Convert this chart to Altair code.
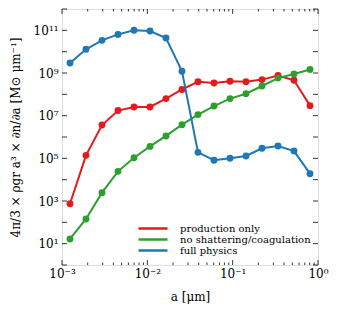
import altair as alt
import pandas as pd

# grain radius bin centres [micron]
a_vals = [0.001241, 0.001911, 0.002943, 0.004532, 0.006978, 0.010746, 0.016548, 0.025482,
          0.039241, 0.060430, 0.093057, 0.14330, 0.22067, 0.33982, 0.52330, 0.80584]

# log10 of 4pi/3 rho a^3 dn/da
log_production = [2.87, 5.14, 6.56, 7.24, 7.41, 7.41, 7.80, 8.23,
                  8.59, 8.53, 8.61, 8.59, 8.69, 8.88, 8.66, 7.47]
log_noshatter = [1.22, 2.16, 3.39, 4.39, 5.03, 5.56, 6.05, 6.58,
                 7.05, 7.45, 7.80, 8.03, 8.39, 8.76, 8.95, 9.16]
log_full = [9.47, 10.11, 10.53, 10.81, 11.00, 10.97, 10.64, 9.08,
            5.28, 4.91, 5.00, 5.11, 5.47, 5.58, 5.34, 4.28]

series_names = ["production only", "no shattering/coagulation", "full physics"]
series_colors = ["#e41a1c", "#2ca02c", "#1f77b4"]
series_logs = [log_production, log_noshatter, log_full]

x_major = [0.001, 0.01, 0.1, 1.0]
x_minor = [k * 10.0 ** e for e in (-3, -2, -1) for k in range(2, 10)]
y_major = [10.0 ** e for e in range(0, 13)]
x_tick_labels = ["10⁻³", "10⁻²", "10⁻¹", "10⁰"]
y_label_values = [1e1, 1e3, 1e5, 1e7, 1e9, 1e11]
y_tick_labels = ["10¹", "10³", "10⁵", "10⁷", "10⁹", "10¹¹"]

FONT = "DejaVu Serif"
W = 256
H = 256

rows = []
for name, logs in zip(series_names, series_logs):
    for a, lv in zip(a_vals, logs):
        rows.append({"a": a, "val": 10.0 ** lv, "series": name})
df = pd.DataFrame(rows)

xscale = alt.Scale(type="log", domain=[1e-3, 1.0], nice=False)
yscale = alt.Scale(type="log", domain=[1.0, 1e12], nice=False)
cscale = alt.Scale(domain=series_names, range=series_colors)

x_label_expr = "[" + ",".join("'%s'" % s for s in x_tick_labels) + "][round(log(datum.value)/LN10)+3]"
y_label_expr = "[" + ",".join("'%s'" % s for s in y_tick_labels) + "][(round(log(datum.value)/LN10)-1)/2]"

x_axis = alt.Axis(values=x_major, labelExpr=x_label_expr, ticks=False, domain=False, grid=False,
                  labelFont=FONT, labelFontSize=12, labelPadding=3, labelColor="black",
                  title="a [μm]", titleFont=FONT, titleFontSize=12, titleFontWeight="normal",
                  titleX=128, titleY=31, titleBaseline="middle", titleAlign="center",
                  titleColor="black", labelFlush=False)
y_axis = alt.Axis(values=y_label_values, labelExpr=y_label_expr, ticks=False, domain=False, grid=False,
                  labelFont=FONT, labelFontSize=12, labelPadding=4, labelColor="black",
                  title="4π/3 × ρgr a³ × ∂n/∂a [M⊙ μm⁻¹]", titleFont=FONT, titleFontSize=12,
                  titleFontWeight="normal", titleX=-47, titleY=128, titleAngle=-90,
                  titleBaseline="middle", titleAlign="center", titleColor="black", labelFlush=False)

legend = alt.Legend(title=None, orient="none", legendX=75, legendY=214, symbolType="stroke",
                    symbolSize=841, symbolStrokeWidth=2.5, labelFont=FONT, labelFontSize=10,
                    labelColor="black", labelOffset=11, clipHeight=11, rowPadding=0, padding=0)

layers = []
for i, name in enumerate(series_names):
    sub = alt.Chart(df).transform_filter(alt.datum.series == name)
    enc = dict(
        x=alt.X("a:Q", scale=xscale, axis=x_axis),
        y=alt.Y("val:Q", scale=yscale, axis=y_axis),
        color=alt.Color("series:N", scale=cscale, legend=legend),
    )
    layers.append(sub.mark_line(strokeWidth=2, clip=True).encode(**enc))
    layers.append(sub.mark_circle(size=48, opacity=1, clip=True).encode(**enc))

# inward ticks on all four sides
xmaj_df = pd.DataFrame({"a": x_major})
xmin_df = pd.DataFrame({"a": x_minor})
ymaj_df = pd.DataFrame({"val": y_major})

def xticks(d, length):
    bottom = alt.Chart(d).mark_rule(color="black", strokeWidth=0.8).encode(
        x=alt.X("a:Q", scale=xscale, axis=x_axis), y=alt.value(H), y2=alt.value(H - length))
    top = alt.Chart(d).mark_rule(color="black", strokeWidth=0.8).encode(
        x=alt.X("a:Q", scale=xscale, axis=x_axis), y=alt.value(0), y2=alt.value(length))
    return [bottom, top]

def yticks(d, length):
    left = alt.Chart(d).mark_rule(color="black", strokeWidth=0.8).encode(
        y=alt.Y("val:Q", scale=yscale, axis=y_axis), x=alt.value(0), x2=alt.value(length))
    right = alt.Chart(d).mark_rule(color="black", strokeWidth=0.8).encode(
        y=alt.Y("val:Q", scale=yscale, axis=y_axis), x=alt.value(W), x2=alt.value(W - length))
    return [left, right]

tick_layers = xticks(xmaj_df, 5) + xticks(xmin_df, 2.5) + yticks(ymaj_df, 5)

chart = alt.layer(*layers, *tick_layers).properties(
    width=W, height=H,
    padding={"left": 54, "top": 1, "right": 12, "bottom": 42},
    autosize="none",
).configure_view(stroke="black", strokeWidth=1.2).configure(background="white")

chart.save("out.html", embed_options={"renderer": "svg", "actions": False})
